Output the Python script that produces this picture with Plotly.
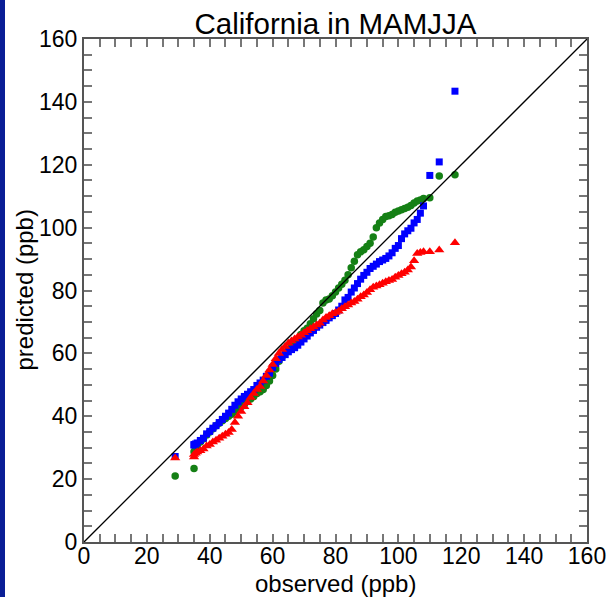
import plotly.graph_objects as go

title_text = "California in MAMJJA"
x_label = "observed (ppb)"
y_label = "predicted (ppb)"

observed = [29, 35, 35, 35.5, 36, 37, 38, 39, 40, 41, 42, 43, 44, 45, 46, 47, 48, 49, 50,
            51, 52, 53, 54, 55, 56, 57, 58, 59, 60, 61, 62, 63, 64, 65, 66, 67, 68, 69, 70,
            71, 72, 73, 74, 75, 76, 77, 78, 79, 80, 81, 82, 83, 84, 85, 86, 87, 88, 89, 90,
            91, 92, 93, 94, 95, 96, 97, 98, 99, 100, 101, 102, 103, 104, 105, 106, 107, 108,
            110, 113, 118]

green_pred = [21.0, 23.4, 28.7, 30.0, 30.8, 31.8, 32.8, 34.0, 35.0, 36.0, 37.0, 37.8, 38.6, 39.3,
              40.0, 40.6, 41.5, 42.3, 43.0, 43.8, 44.7, 45.5, 46.3, 47.2, 47.8, 48.5, 49.8, 51.2,
              53.0, 55.0, 57.5, 59.0, 60.2, 61.0, 62.0, 63.0, 64.5, 66.0, 67.2, 68.0, 69.4, 71.0,
              72.5, 73.6, 76.0, 77.0, 77.3, 78.3, 79.5, 80.8, 82.0, 83.3, 85.0, 87.2, 89.3, 91.4,
              92.3, 93.0, 94.0, 95.0, 97.0, 100.0, 101.5, 102.6, 103.5, 103.8, 104.2, 104.9, 105.3,
              105.7, 106.1, 106.5, 107.0, 107.8, 108.5, 108.8, 109.3, 109.5, 116.4, 116.8]

blue_pred = [27.2, 30.8, 31.0, 31.2, 31.5, 32.3, 33.0, 34.4, 35.2, 36.2, 37.0, 38.0, 39.0, 40.0,
             41.0, 42.2, 43.5, 44.6, 45.5, 46.3, 47.0, 47.8, 48.5, 49.8, 50.6, 51.5, 52.7, 53.7,
             55.5, 56.8, 58.0, 58.7, 59.6, 60.5, 61.2, 61.8, 62.6, 63.6, 64.6, 65.5, 66.5, 67.3,
             68.3, 69.0, 69.8, 70.5, 71.3, 72.0, 72.7, 73.8, 75.0, 77.0, 77.8, 79.5, 80.8, 82.2,
             83.6, 84.8, 85.8, 87.0, 87.7, 88.4, 89.2, 89.7, 90.2, 91.0, 92.0, 93.4, 94.3, 96.5,
             98.0, 99.0, 99.8, 101.5, 102.6, 104.6, 106.9, 116.6, 120.9, 143.4]

red_pred = [26.7, 27.0, 27.8, 28.2, 28.6, 29.0, 29.6, 30.5, 31.0, 31.8, 32.4, 33.0, 33.6, 34.3,
            34.8, 35.8, 38.0, 40.0, 41.5, 43.0, 44.3, 46.0, 47.2, 48.5, 49.5, 51.2, 53.0, 54.7,
            56.5, 58.3, 60.0, 61.2, 62.2, 63.2, 63.9, 64.6, 65.2, 65.8, 66.6, 67.2, 67.8, 68.4,
            69.0, 69.6, 70.6, 71.4, 72.0, 72.6, 73.0, 73.4, 74.2, 74.8, 75.4, 76.0, 76.5, 77.2,
            78.0, 78.6, 79.4, 80.2, 81.0, 81.4, 81.8, 82.3, 82.8, 83.2, 83.5, 84.2, 84.8, 85.3,
            85.8, 86.5, 87.5, 89.5, 91.8, 92.1, 92.3, 92.3, 92.9, 95.2]

diag = [0, 160]

FONT = "Liberation Sans, Arial, Helvetica"

fig = go.Figure()
fig.add_trace(go.Scatter(x=observed, y=green_pred, mode="markers",
                         marker=dict(symbol="circle", size=7.5, color="#158015",
                                     line=dict(width=0))))
fig.add_trace(go.Scatter(x=observed, y=blue_pred, mode="markers",
                         marker=dict(symbol="square", size=7, color="#0000ff",
                                     line=dict(width=0))))
fig.add_trace(go.Scatter(x=observed, y=red_pred, mode="markers",
                         marker=dict(symbol="triangle-up", size=9, color="#ff0000",
                                     line=dict(width=0))))
fig.add_trace(go.Scatter(x=diag, y=diag, mode="lines",
                         line=dict(color="black", width=1.3)))

axis_common = dict(
    range=[0, 160], dtick=20, tick0=0, automargin=False,
    ticks="inside", ticklen=8, tickwidth=1.5, tickcolor="#777",
    minor=dict(dtick=5, ticks="inside", ticklen=8, tickwidth=1.5, tickcolor="#777"),
    showline=True, linewidth=2, linecolor="#555", mirror="ticks",
    showgrid=False, zeroline=False,
    tickfont=dict(family=FONT, size=23, color="black"),
)

fig.update_layout(
    width=611, height=597,
    margin=dict(l=84, r=24, t=39, b=55, autoexpand=False),
    plot_bgcolor="white", paper_bgcolor="white",
    showlegend=False,
    title=dict(text=title_text, x=0.5, xref="paper", xanchor="center",
               y=1, yref="paper", yanchor="bottom", pad=dict(b=5),
               font=dict(family=FONT, size=29.5, color="black")),
    xaxis=dict(**axis_common, ticklabelstandoff=-8),
    yaxis=dict(**axis_common),
    annotations=[
        dict(text=x_label, xref="paper", yref="paper", x=0.5, y=0,
             xanchor="center", yanchor="top", yshift=-26, showarrow=False,
             font=dict(family=FONT, size=24, color="black")),
        dict(text=y_label, xref="paper", yref="paper", x=0, y=0.5, textangle=-90,
             xanchor="center", yanchor="middle", xshift=-60, showarrow=False,
             font=dict(family=FONT, size=24, color="black")),
    ],
    shapes=[dict(type="rect", xref="paper", yref="paper", xsizemode="pixel", ysizemode="scaled",
                 xanchor=0, x0=-84, x1=-79, y0=-0.2, y1=1.2, fillcolor="#0a1e96",
                 line=dict(width=0), layer="above")],
)

fig.write_html("out.html")
